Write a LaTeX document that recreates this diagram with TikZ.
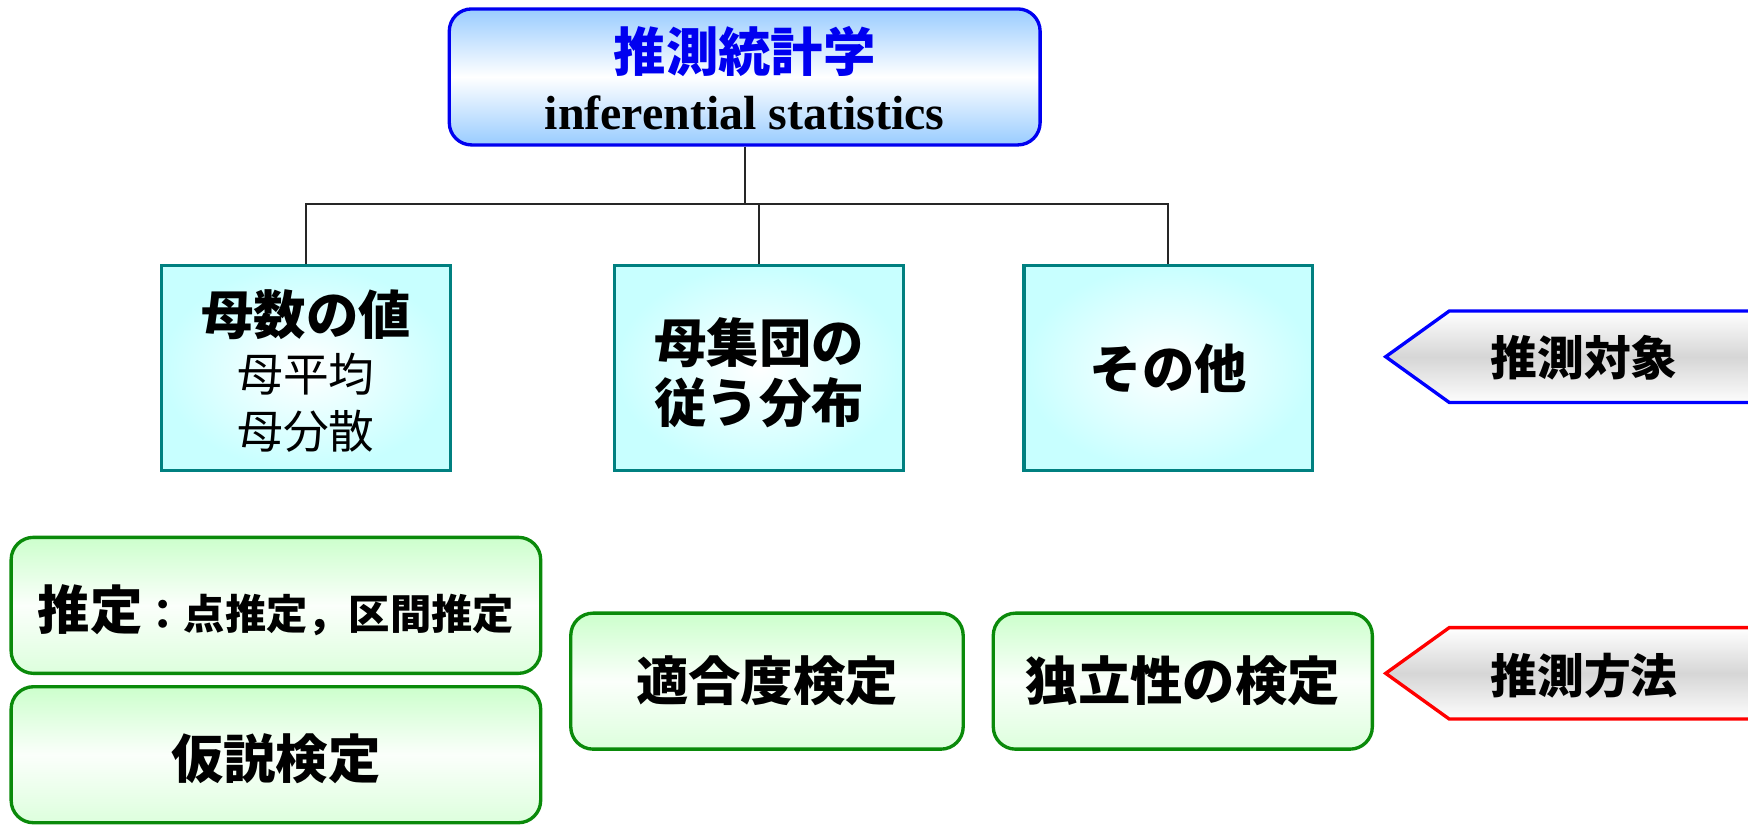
\documentclass[tikz,border=0pt]{standalone}
\usepackage{fontspec}
\setmainfont{Liberation Serif}
\newfontfamily\jp{Noto Sans CJK JP}
\definecolor{tblue}{HTML}{99CCFF}
\definecolor{tborder}{HTML}{0000F0}
\definecolor{teal2}{HTML}{008080}
\definecolor{cyanfill}{HTML}{C8FFFF}
\definecolor{gborder}{HTML}{0A8A0A}
\definecolor{gfill}{HTML}{CCFFCC}
\definecolor{gfillb}{HTML}{DDFFDD}
\definecolor{garrow}{HTML}{D6D6D6}
\newcommand\fjBig{\jp\bfseries\fontsize{47}{56}\selectfont}
\newcommand\fjMid{\jp\fontsize{41}{48}\selectfont}
\newcommand\fjSmall{\jp\bfseries\fontsize{37}{44}\selectfont}
\newcommand\fjArr{\jp\bfseries\fontsize{42}{50}\selectfont}
\begin{document}
\begin{tikzpicture}[x=1pt,y=-1pt,
  topbox/.style={draw=tborder, line width=3pt, rounded corners=20pt, inner sep=0pt,
    minimum width=530pt, minimum height=122pt,
    top color=tblue, bottom color=tblue, middle color=white},
  cybox/.style={draw=teal2, line width=3pt, inner sep=0pt,
    minimum width=259pt, minimum height=184pt,
    inner color=white, outer color=cyanfill},
  grbox/.style={draw=gborder, line width=3pt, rounded corners=20pt, inner sep=0pt,
    minimum height=122pt,
    top color=gfill, bottom color=gfillb, middle color=white!92!gfill},
  conn/.style={line width=1.5pt, draw=black!85},
  txt/.style={inner sep=0pt, anchor=center},
  arrshape/.style={line width=3pt, top color=white, bottom color=white!95!garrow, middle color=garrow}
]
\clip (0,0) rectangle (1568,740);
% top node
\node[topbox] (top) at (668,69) {};
\node[txt, text=tborder] (topt1) at (668,46) {\fjBig 推測統計学};
\node[txt] (topt2) at (668,101) {\fontsize{43}{50}\selectfont\bfseries inferential statistics};
% cyan boxes
\node[cybox] (b1) at (274.5,330) {};
\node[cybox] (b2) at (681,330) {};
\node[cybox] (b3) at (1048,330) {};
\node[txt] (b1t1) at (274.5,282) {\fjBig 母数の値};
\node[txt] (b1t2) at (274.5,336) {\fjMid 母平均};
\node[txt] (b1t3) at (274.5,387) {\fjMid 母分散};
\node[txt] (b2t1) at (681,307) {\fjBig 母集団の};
\node[txt] (b2t2) at (681,361) {\fjBig 従う分布};
\node[txt] (b3t1) at (1048,331) {\fjBig その他};
% connectors
\coordinate (bus) at (0,183);
\draw[conn] (top.south) -- (top.south |- bus);
\draw[conn] (b1.north) -- (b1.north |- bus) -- (b3.north |- bus) -- (b3.north);
\draw[conn] (b2.north) -- (b2.north |- bus);
% green boxes
\node[grbox, minimum width=475pt] (g1) at (247.5,543) {};
\node[grbox, minimum width=475pt] (g2) at (247.5,677) {};
\node[grbox, minimum width=352pt] (g3) at (688,611) {};
\node[grbox, minimum width=340pt] (g4) at (1061,611) {};
\node[txt] (g1t) at (247.5,547) {\fjBig 推定\fjSmall ：点推定，区間推定};
\node[txt] (g2t) at (247.5,681) {\fjBig 仮説検定};
\node[txt] (g3t) at (688,611) {\fjBig 適合度検定};
\node[txt] (g4t) at (1061,611) {\fjBig 独立性の検定};
% arrows
\coordinate (a1tip) at (1243,320);
\coordinate (a2tip) at (1243,604);
\draw[arrshape, draw=blue] (a1tip) -- ++(57,-41) -- ++(300,0) -- ++(0,82) -- ++(-300,0) -- cycle;
\draw[arrshape, draw=red] (a2tip) -- ++(57,-41) -- ++(300,0) -- ++(0,82) -- ++(-300,0) -- cycle;
\node[txt] (a1t) at (1421,321) {\fjArr 推測対象};
\node[txt] (a2t) at (1421,606) {\fjArr 推測方法};
\end{tikzpicture}
\end{document}
